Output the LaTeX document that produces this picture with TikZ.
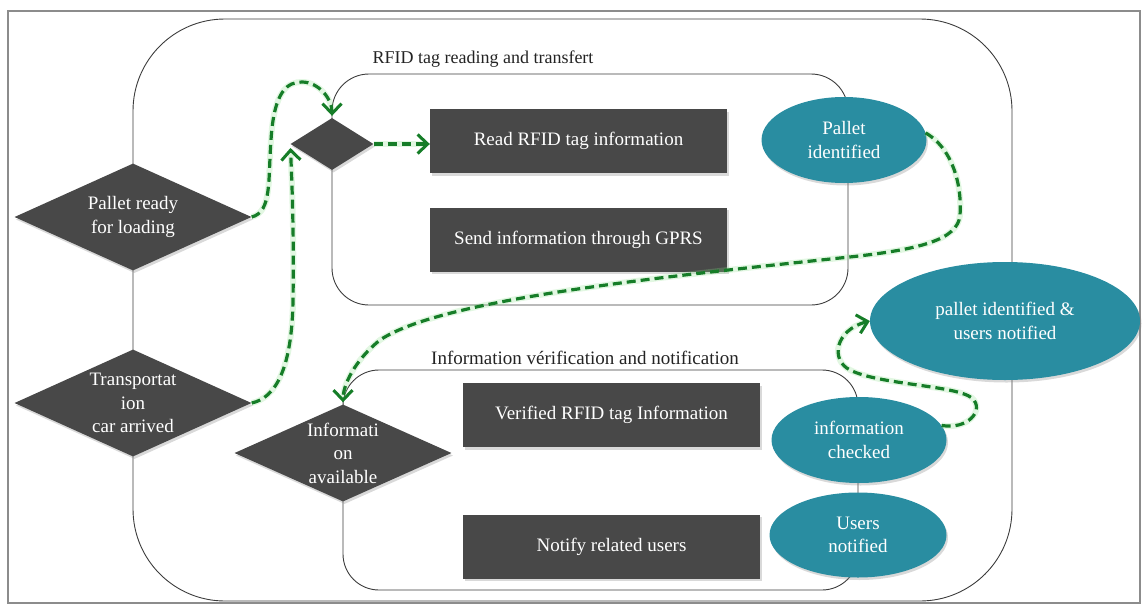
\documentclass[tikz,border=0pt]{standalone}
\usepackage{fontspec}
\setmainfont{Liberation Serif}
\usetikzlibrary{shapes.geometric,arrows.meta,shadows}
\definecolor{boxgray}{RGB}{72,72,72}
\definecolor{tealfill}{RGB}{41,141,161}
\definecolor{dgreen}{RGB}{22,125,40}
\definecolor{glowgreen}{RGB}{140,225,140}
\definecolor{framegray}{RGB}{140,140,140}
\definecolor{linegray}{RGB}{60,60,60}
\definecolor{labelgray}{RGB}{35,35,35}
\begin{document}
\begin{tikzpicture}[x=1pt,y=-1pt,
  txt/.style={font=\fontsize{19}{23.5}\selectfont},
  shd/.style={drop shadow={shadow xshift=1.5pt,shadow yshift=-2.5pt,opacity=0.3}},
  task/.style={rectangle,fill=boxgray,text=white,minimum width=297pt,minimum height=64pt,inner sep=0pt,txt,shd},
  dec/.style={diamond,fill=boxgray,inner sep=0pt,shd},
  dectext/.style={txt,text=white,align=center},
  state/.style={ellipse,fill=tealfill,text=white,inner sep=0pt,align=center,txt,shd},
  container/.style={draw=linegray,line width=0.9pt,rectangle,inner sep=0pt},
  grouplabel/.style={txt,text=labelgray},
  flow/.style={draw=dgreen,line width=3.2pt,dash pattern=on 9pt off 5pt,
    -{Straight Barb[length=10pt,width=19pt,line width=3pt]},
    preaction={draw=glowgreen,line width=6pt,opacity=0.25,solid}},
]
\useasboundingbox (0,0) rectangle (1147,605);
% frame
\node[draw=framegray,line width=1.6pt,minimum width=1132pt,minimum height=592pt,inner sep=0pt] (frame) at (574,307) {};
% containers
\node[container,rounded corners=92pt,minimum width=879pt,minimum height=582pt] (outer) at (572.5,310) {};
\node[container,rounded corners=37pt,minimum width=516pt,minimum height=231pt] (box1) at (590,189.5) {};
\node[container,rounded corners=36pt,minimum width=515pt,minimum height=220pt] (box2) at (600.5,480) {};
% group labels
\node[grouplabel,font=\fontsize{18}{22}\selectfont] (lab1) at (483,59) {RFID tag reading and transfert};
\node[grouplabel] (lab2) at (585,358) {Information vérification and notification};
% decisions
\node[dec,minimum width=237pt,minimum height=107pt,label={[dectext]center:Pallet ready\\for loading}] (d1) at (133,217) {};
\node[dec,minimum width=237pt,minimum height=107pt,label={[dectext]center:Transportat\\ion\\car arrived}] (d2) at (133,403) {};
\node[dec,minimum width=83pt,minimum height=52pt] (d0) at (332,144) {};
\node[dec,minimum width=217pt,minimum height=97pt,label={[dectext]center:Informati\\on\\available}] (d3) at (343,453) {};
% tasks
\node[task] (r1) at (578.5,141) {Read RFID tag information};
\node[task] (r2) at (578.5,239.5) {Send information through GPRS};
\node[task] (r3) at (611.5,415) {Verified RFID tag Information};
\node[task] (r4) at (611.5,546.5) {Notify related users};
% states
\node[state,minimum width=165pt,minimum height=86pt] (e1) at (844,140) {Pallet\\identified};
\node[state,minimum width=175pt,minimum height=86pt] (e2) at (859,440) {information\\checked};
\node[state,minimum width=177pt,minimum height=85pt] (e3) at (858,535) {Users\\notified};
\node[state,minimum width=270pt,minimum height=118pt] (e4) at (1005,321) {pallet identified \&\\users notified};
% flows
\draw[flow,shorten >=2pt] (d1.east) .. controls (272,212) and (268,180) .. (271,140) .. controls (274,90) and (288,82) .. (302,82) .. controls (318,82) and (332,98) .. (d0.north);
\draw[flow,shorten >=4pt] (d2.east) .. controls (275,398) and (292,370) .. (293,300) .. controls (294,230) and (292,185) .. (d0.west);
\draw[flow] (d0.east) -- (d0.east -| r1.west);
\draw[flow,shorten >=2pt] (e1.5) .. controls (955,150) and (962,190) .. (960,215) .. controls (958,240) and (920,250) .. (840,258) .. controls (650,278) and (440,300) .. (380,340) .. controls (355,360) and (343,385) .. (d3.north);
\draw[flow] (e2.10) .. controls (968,430) and (985,410) .. (972,398) .. controls (955,385) and (880,385) .. (850,370) .. controls (830,360) and (835,330) .. (e4.west);
\end{tikzpicture}
\end{document}
